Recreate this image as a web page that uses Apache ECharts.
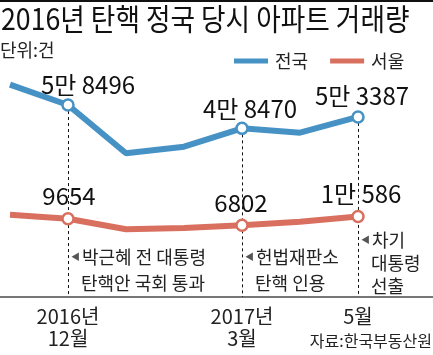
<!DOCTYPE html>
<html>
<head>
<meta charset="utf-8">
<script src="https://cdn.jsdelivr.net/npm/echarts@6/dist/echarts.min.js"></script>
<style>
html,body{margin:0;padding:0;background:#fff;}
#c{width:433px;height:355px;}
</style>
</head>
<body>
<div id="c"></div>
<script>
// ---- data ----
var months = ['2016-11', '2016-12', '2017-01', '2017-02', '2017-03', '2017-04', '2017-05'];
var tickLabels = ['', '2016년\n12월', '', '', '2017년\n3월', '', '5월'];
var national = [67300, 58496, 37800, 40600, 48470, 46600, 53387];
var seoul = [11300, 9654, 5100, 5700, 6802, 8300, 10586];
var markedIdx = [1, 4, 6];
var nationalLabelOffsets = {1: [20, -20], 4: [8, -19], 6: [4, -21]};
var seoulLabelOffsets = {1: [1, -23], 4: [-1, -22], 6: [3, -23]};
var events = [
  {idx: 1, lines: ['박근혜 전 대통령', '탄핵안 국회 통과']},
  {idx: 4, lines: ['헌법재판소', '탄핵 인용']},
  {idx: 6, lines: ['차기', '대통령', '선출']}
];
var titleText = '2016년 탄핵 정국 당시 아파트 거래량';

var FONT = "'Noto Sans CJK KR','Noto Sans',sans-serif";
var CJK = "'Noto Sans CJK KR',sans-serif";
var BLUE = '#4792c5';
var RED = '#d9705f';
var Y_MIN = -24000, Y_MAX = 75700;

function fmt(v) {
  var man = Math.floor(v / 10000), rest = v % 10000;
  return man > 0 ? man + '만 ' + rest : String(rest);
}

function buildData(values, color, offsets) {
  return values.map(function (v, i) {
    if (markedIdx.indexOf(i) >= 0) {
      return {
        value: v,
        symbol: 'circle',
        symbolSize: 11,
        itemStyle: {color: '#fff', borderColor: color, borderWidth: 2.5},
        label: {
          show: true, position: 'inside', offset: offsets[i],
          formatter: function (p) { return fmt(p.value); },
          fontFamily: FONT, fontSize: 24, color: '#111'
        }
      };
    }
    return {value: v, symbol: 'none', symbolSize: 0};
  });
}

var dashLines = markedIdx.map(function (i) {
  return [{coord: [months[i], national[i]]}, {coord: [months[i], Y_MIN]}];
});

var chart = echarts.init(document.getElementById('c'), null, {renderer: 'canvas'});
var option = {
  animation: false,
  backgroundColor: '#fff',
  legend: {
    left: 229, top: 47,
    icon: 'rect', itemWidth: 34, itemHeight: 5, itemGap: 22,
    textStyle: {fontFamily: CJK, fontSize: 18, color: '#222', padding: [0, 0, 0, 2]},
    data: ['전국', '서울']
  },
  grid: {left: 10, right: 75, top: 65, bottom: 58},
  xAxis: {
    type: 'category', data: months, boundaryGap: false,
    axisLine: {show: false}, axisTick: {show: false},
    axisLabel: {
      interval: 0, margin: 8,
      formatter: function (v, i) { return tickLabels[i]; },
      fontFamily: FONT, fontSize: 20, lineHeight: 22, color: '#222'
    }
  },
  yAxis: {
    type: 'value', min: Y_MIN, max: Y_MAX, show: false,
    splitLine: {show: false}
  },
  series: [
    {
      name: '전국', type: 'line', color: BLUE,
      lineStyle: {width: 6, color: BLUE},
      data: buildData(national, BLUE, nationalLabelOffsets),
      z: 3,
      markLine: {
        silent: true, symbol: 'none',
        lineStyle: {color: '#111', type: [3, 3], width: 1},
        label: {show: false},
        data: dashLines,
        z: 1
      }
    },
    {
      name: '서울', type: 'line', color: RED,
      lineStyle: {width: 6, color: RED},
      data: buildData(seoul, RED, seoulLabelOffsets),
      z: 3
    }
  ],
  graphic: [
    {type: 'rect', left: 0, top: 0, shape: {width: 433, height: 2}, style: {fill: '#111'}},
    {type: 'text', x: 1, y: 4, scaleX: 0.89, scaleY: 1,
     style: {text: titleText, font: '30px ' + CJK, fill: '#111'}},
    {type: 'text', left: 0, top: 41, style: {text: '단위:건', font: '18px ' + CJK, fill: '#222'}},
    {type: 'line', shape: {x1: 0, y1: 297, x2: 433, y2: 297}, style: {stroke: '#777', lineWidth: 2}},
    {type: 'text', right: 1, top: 333, style: {text: '자료:한국부동산원', font: '16px ' + CJK, fill: '#222'}}
  ]
};
chart.setOption(option);

// event annotations placed next to their dashed lines
var extra = [];
events.forEach(function (e) {
  var x = chart.convertToPixel({xAxisIndex: 0}, months[e.idx]);
  var three = e.lines.length === 3;
  var top = three ? 231 : 248;
  var lh = three ? 23 : 26;
  e.lines.forEach(function (t, k) {
    extra.push({
      type: 'text', x: x + (k === 0 ? 3 : 13), y: top + k * lh,
      style: {
        text: (k === 0 ? '{t|◀}' : '') + t,
        font: '18px ' + CJK, fill: '#222',
        rich: {t: {fontSize: 9, fill: '#555', fontFamily: CJK, padding: [0, 2, 0, 0]}}
      }
    });
  });
});
chart.setOption({graphic: option.graphic.concat(extra)});
</script>
</body>
</html>
